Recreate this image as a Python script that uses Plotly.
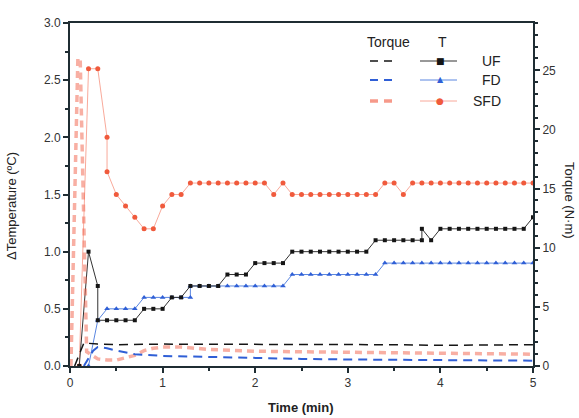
import plotly.graph_objects as go

# ---- Temperature rise (left axis, deg C) ----
uf_t_time = [0.1, 0.2, 0.3, 0.3, 0.4, 0.5, 0.6, 0.7, 0.8, 0.9, 1.0, 1.1, 1.2, 1.3, 1.4, 1.5, 1.6,
             1.7, 1.8, 1.9, 2.0, 2.1, 2.2, 2.3, 2.4, 2.5, 2.6, 2.7, 2.8, 2.9, 3.0, 3.1, 3.2,
             3.3, 3.4, 3.5, 3.6, 3.7, 3.8, 3.8, 3.9, 4.0, 4.1, 4.2, 4.3, 4.4, 4.5, 4.6, 4.7,
             4.8, 4.9, 5.0]
uf_t_vals = [0.0, 1.0, 0.7, 0.4, 0.4, 0.4, 0.4, 0.4, 0.5, 0.5, 0.5, 0.6, 0.6, 0.7, 0.7, 0.7, 0.7,
             0.8, 0.8, 0.8, 0.9, 0.9, 0.9, 0.9, 1.0, 1.0, 1.0, 1.0, 1.0, 1.0, 1.0, 1.0, 1.0,
             1.1, 1.1, 1.1, 1.1, 1.1, 1.1, 1.2, 1.1, 1.2, 1.2, 1.2, 1.2, 1.2, 1.2, 1.2, 1.2,
             1.2, 1.2, 1.3]

fd_t_time = [0.2, 0.3, 0.4, 0.5, 0.6, 0.7, 0.8, 0.9, 1.0, 1.1, 1.2, 1.3, 1.3, 1.4, 1.5, 1.6,
             1.7, 1.8, 1.9, 2.0, 2.1, 2.2, 2.3, 2.4, 2.5, 2.6, 2.7, 2.8, 2.9, 3.0, 3.1, 3.2,
             3.3, 3.4, 3.5, 3.6, 3.7, 3.8, 3.9, 4.0, 4.1, 4.2, 4.3, 4.4, 4.5, 4.6, 4.7, 4.8,
             4.9, 5.0]
fd_t_vals = [0.0, 0.4, 0.5, 0.5, 0.5, 0.5, 0.6, 0.6, 0.6, 0.6, 0.6, 0.6, 0.7, 0.7, 0.7, 0.7,
             0.7, 0.7, 0.7, 0.7, 0.7, 0.7, 0.7, 0.8, 0.8, 0.8, 0.8, 0.8, 0.8, 0.8, 0.8, 0.8,
             0.8, 0.9, 0.9, 0.9, 0.9, 0.9, 0.9, 0.9, 0.9, 0.9, 0.9, 0.9, 0.9, 0.9, 0.9, 0.9,
             0.9, 0.9]

sfd_t_time = [0.1, 0.2, 0.3, 0.4, 0.4, 0.5, 0.6, 0.7, 0.8, 0.9, 1.0, 1.1, 1.2, 1.3, 1.4, 1.5,
              1.6, 1.7, 1.8, 1.9, 2.0, 2.1, 2.2, 2.3, 2.4, 2.5, 2.6, 2.7, 2.8, 2.9, 3.0, 3.1,
              3.2, 3.3, 3.4, 3.5, 3.6, 3.7, 3.8, 3.9, 4.0, 4.1, 4.2, 4.3, 4.4, 4.5, 4.6, 4.7,
              4.8, 4.9, 5.0]
sfd_t_vals = [0.0, 2.6, 2.6, 2.0, 1.7, 1.5, 1.4, 1.3, 1.2, 1.2, 1.4, 1.5, 1.5, 1.6, 1.6, 1.6,
              1.6, 1.6, 1.6, 1.6, 1.6, 1.6, 1.5, 1.6, 1.5, 1.5, 1.5, 1.5, 1.5, 1.5, 1.5, 1.5,
              1.5, 1.5, 1.6, 1.6, 1.5, 1.6, 1.6, 1.6, 1.6, 1.6, 1.6, 1.6, 1.6, 1.6, 1.6, 1.6,
              1.6, 1.6, 1.6]

# ---- Torque (right axis, N.m) ----
uf_tq_time = [0.05, 0.15, 0.3, 0.5, 1.0, 1.5, 2.0, 2.5, 3.0, 3.5, 4.0, 4.5, 5.0]
uf_tq_vals = [0.0, 1.95, 1.85, 1.8, 1.85, 1.85, 1.8, 1.8, 1.8, 1.8, 1.75, 1.8, 1.8]

fd_tq_time = [0.15, 0.25, 0.3, 0.4, 0.5, 0.7, 1.0, 1.5, 2.0, 2.5, 3.0, 3.5, 4.0, 4.5, 5.0]
fd_tq_vals = [0.0, 1.3, 1.6, 1.5, 1.3, 1.0, 0.85, 0.75, 0.7, 0.6, 0.55, 0.52, 0.5, 0.47, 0.45]

sfd_tq_time = [0.01, 0.05, 0.085, 0.11, 0.15, 0.18, 0.3, 0.4, 0.5, 0.6, 0.7, 0.8, 0.9, 1.0, 1.2,
               1.5, 2.0, 2.5, 3.0, 3.5, 4.0, 4.5, 5.0]
sfd_tq_vals = [0.0, 14.0, 26.0, 26.0, 10.0, 1.2, 0.6, 0.5, 0.5, 0.7, 0.9, 1.3, 1.5, 1.6, 1.6,
               1.4, 1.25, 1.2, 1.15, 1.1, 1.1, 1.05, 1.0]

x_ticks = [0, 1, 2, 3, 4, 5]
y_ticks = [0.0, 0.5, 1.0, 1.5, 2.0, 2.5, 3.0]
y2_ticks = [0, 5, 10, 15, 20, 25]
legend_names = ["UF", "FD", "SFD"]

C_BLACK = "#151515"
C_BLUE = "#2f5fd6"
C_RED = "#f05a3c"
AXC = "#1f2d33"
FONT = "Liberation Sans, Arial, sans-serif"

fig = go.Figure()

# torque dashed lines (right axis)
fig.add_trace(go.Scatter(x=sfd_tq_time, y=sfd_tq_vals, yaxis="y2", mode="lines",
                         line=dict(color="rgba(242,110,88,0.55)", width=3.5, dash="7px,5px"),
                         showlegend=False))
fig.add_trace(go.Scatter(x=uf_tq_time, y=uf_tq_vals, yaxis="y2", mode="lines",
                         line=dict(color=C_BLACK, width=1.5, dash="9px,6px"), showlegend=False))
fig.add_trace(go.Scatter(x=fd_tq_time, y=fd_tq_vals, yaxis="y2", mode="lines",
                         line=dict(color=C_BLUE, width=2, dash="9px,6px"), showlegend=False))

# temperature lines with markers (left axis)
fig.add_trace(go.Scatter(x=sfd_t_time, y=sfd_t_vals, mode="lines+markers",
                         line=dict(color="rgba(245,140,120,0.75)", width=1),
                         marker=dict(symbol="circle", size=5, color=C_RED), showlegend=False))
fig.add_trace(go.Scatter(x=fd_t_time, y=fd_t_vals, mode="lines+markers",
                         line=dict(color="#5a86e0", width=1),
                         marker=dict(symbol="triangle-up", size=5, color=C_BLUE), showlegend=False))
fig.add_trace(go.Scatter(x=uf_t_time, y=uf_t_vals, mode="lines+markers",
                         line=dict(color="#333333", width=1),
                         marker=dict(symbol="square", size=4, color=C_BLACK), showlegend=False))

# ---- custom legend (paper coordinates) ----
W_PLOT = 579 - 70 - 46
H_PLOT = 418 - 23 - 52
def px(xp):
    return (xp - 70) / W_PLOT
def py(yp):
    return (418 - 52 - yp) / H_PLOT

shapes = []
annotations = []
rows = [(61, C_BLACK, 1.5, "■", 9), (80, C_BLUE, 2, "▲", 8), (101, "rgba(242,110,88,0.7)", 3.5, "●", 9)]
marker_cols = [C_BLACK, C_BLUE, C_RED]
line_cols = ["#333333", "#5a86e0", "rgba(245,140,120,0.75)"]
for i, (yy, col, w, sym, fs) in enumerate(rows):
    shapes.append(dict(type="line", xref="paper", yref="paper", x0=px(370), x1=px(396),
                       y0=py(yy), y1=py(yy), line=dict(color=col, width=w, dash="8px,6px")))
    shapes.append(dict(type="line", xref="paper", yref="paper", x0=px(420), x1=px(457),
                       y0=py(yy), y1=py(yy), line=dict(color=line_cols[i], width=1)))
    annotations.append(dict(xref="paper", yref="paper", x=px(440), y=py(yy), text=sym,
                            showarrow=False, font=dict(size=fs, color=marker_cols[i], family="DejaVu Sans"),
                            xanchor="center", yanchor="middle"))
    annotations.append(dict(xref="paper", yref="paper", x=px(503), y=py(yy), text=legend_names[i],
                            showarrow=False, font=dict(size=14, color="#222", family=FONT),
                            xanchor="right", yanchor="middle"))
annotations.append(dict(xref="paper", yref="paper", x=px(388), y=py(42), text="Torque",
                        showarrow=False, font=dict(size=14, color="#222", family=FONT),
                        xanchor="center", yanchor="middle"))
annotations.append(dict(xref="paper", yref="paper", x=px(442), y=py(42), text="T",
                        showarrow=False, font=dict(size=14, color="#222", family=FONT),
                        xanchor="center", yanchor="middle"))

# axis titles
annotations.append(dict(xref="paper", yref="paper", x=px(301), y=py(408), text="<b>Time (min)</b>",
                        showarrow=False, font=dict(size=13, color="#222", family=FONT),
                        xanchor="center", yanchor="middle"))
annotations.append(dict(xref="paper", yref="paper", x=px(11), y=py(206), text="ΔTemperature (ºC)",
                        showarrow=False, textangle=-90, font=dict(size=13, color="#222", family=FONT),
                        xanchor="center", yanchor="middle"))
annotations.append(dict(xref="paper", yref="paper", x=px(570), y=py(200), text="Torque (N·m)",
                        showarrow=False, textangle=90, font=dict(size=13, color="#222", family=FONT),
                        xanchor="center", yanchor="middle"))

fig.update_layout(
    width=579, height=418,
    margin=dict(l=70, r=46, t=23, b=52),
    paper_bgcolor="white", plot_bgcolor="white",
    font=dict(family=FONT, size=12, color="#333"),
    shapes=shapes, annotations=annotations,
    xaxis=dict(range=[0, 5], tickvals=x_ticks, ticks="outside", ticklen=5, tickwidth=1.5,
               tickcolor=AXC, showline=True, linecolor=AXC, linewidth=2, mirror=True,
               showgrid=False, zeroline=False,
               minor=dict(dtick=0.5, ticks="outside", ticklen=3, tickcolor=AXC, showgrid=False),
               tickfont=dict(size=12, color="#333")),
    yaxis=dict(range=[0, 3], tickvals=y_ticks, tickformat=".1f", ticks="outside", ticklen=5,
               tickwidth=1.5, tickcolor=AXC, showline=True, linecolor=AXC, linewidth=2,
               showgrid=False, zeroline=False,
               minor=dict(dtick=0.25, ticks="outside", ticklen=3, tickcolor=AXC, showgrid=False),
               tickfont=dict(size=12, color="#333")),
    yaxis2=dict(range=[0, 29], tickvals=y2_ticks, overlaying="y", side="right", ticks="outside",
                ticklen=5, tickwidth=1.5, tickcolor=AXC, showline=True, linecolor=AXC, linewidth=2,
                showgrid=False, zeroline=False,
                minor=dict(dtick=1, ticks="outside", ticklen=3, tickcolor=AXC, showgrid=False),
                tickfont=dict(size=12, color="#333")),
)

fig.write_html("out.html", config={"displayModeBar": False},
               post_script="document.body.style.margin='0px';")
